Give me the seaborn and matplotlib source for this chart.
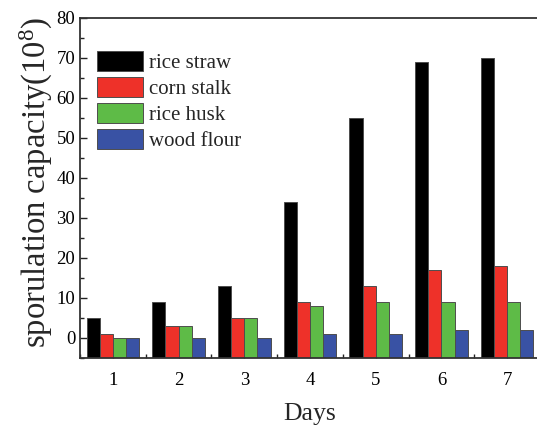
import matplotlib
matplotlib.use("Agg")
import matplotlib.pyplot as plt
from matplotlib.ticker import MultipleLocator, FixedLocator
import seaborn as sns
import pandas as pd

days = ["1", "2", "3", "4", "5", "6", "7"]
materials = ["rice straw", "corn stalk", "rice husk", "wood flour"]
rice_straw = [5, 9, 13, 34, 55, 69, 70]
corn_stalk = [1, 3, 5, 9, 13, 17, 18]
rice_husk = [0, 3, 5, 8, 9, 9, 9]
wood_flour = [0, 0, 0, 1, 1, 2, 2]
colors = ["#000000", "#EE3129", "#5EBB47", "#3952A4"]
y_floor = -5

df = pd.DataFrame({
    "Days": days * 4,
    "material": sum([[m] * len(days) for m in materials], []),
    "value": rice_straw + corn_stalk + rice_husk + wood_flour,
})

sns.set_theme(style="ticks")
plt.rcParams["font.family"] = ["Liberation Serif", "DejaVu Serif"]
plt.rcParams["mathtext.fontset"] = "custom"
plt.rcParams["mathtext.rm"] = "Liberation Serif"
plt.rcParams["mathtext.it"] = "Liberation Serif:italic"

fig = plt.figure(figsize=(5.37, 4.25), dpi=100)
ax = fig.add_axes([80 / 537, 1 - 358 / 425, (540 - 80) / 537, (358 - 18) / 425])

sns.barplot(data=df, x="Days", y="value", hue="material", hue_order=materials,
            palette=colors, width=0.8, edgecolor="#4d4d4d", linewidth=0.7,
            saturation=1, ax=ax, legend=True)

# bars rise from the bottom of the axis rather than from zero
for bar in ax.patches:
    top = bar.get_y() + bar.get_height()
    bar.set_y(y_floor)
    bar.set_height(top - y_floor)

ax.set_ylim(y_floor, 80)
ax.set_xlim(-0.5, 6.5)
ax.yaxis.set_major_locator(MultipleLocator(10))
ax.yaxis.set_minor_locator(MultipleLocator(5))
ax.xaxis.set_minor_locator(FixedLocator([i + 0.5 for i in range(-1, 7)]))

ax.tick_params(axis="both", which="both", direction="in", colors="#222222",
               labelcolor="black", labelsize=13.5)
ax.tick_params(which="major", length=5, width=1)
ax.tick_params(which="minor", length=3, width=1)
ax.tick_params(axis="x", which="major", pad=10)

for side in ["left", "bottom", "top", "right"]:
    ax.spines[side].set_visible(True)
    ax.spines[side].set_linewidth(1.3)
    ax.spines[side].set_color("#333333")

ax.set_xlabel("Days", fontsize=18.5, labelpad=10)
ax.set_ylabel("sporulation capacity(10$^{8}$)", fontsize=23.5)
ax.yaxis.set_label_coords(-0.055, 0.515)

handles, labels = ax.get_legend_handles_labels()
ax.legend(handles, labels, loc="upper left", bbox_to_anchor=(-0.0065, 0.96),
          frameon=False, fontsize=15, handlelength=2.2, handleheight=1.05,
          labelspacing=0.2, handletextpad=0.3, borderaxespad=0.55)

fig.savefig("out.png", dpi=100)
